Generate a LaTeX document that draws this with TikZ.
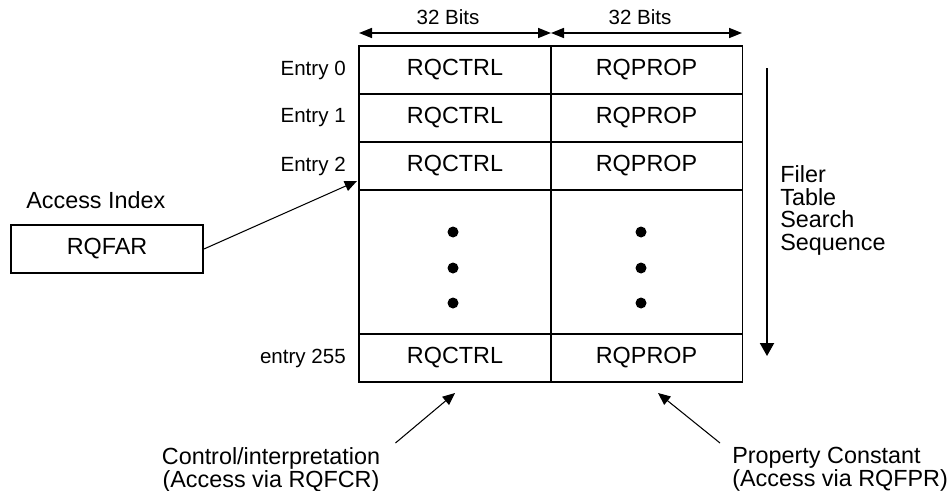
\documentclass[tikz,border=0pt]{standalone}
\usepackage{fontspec}
\setmainfont{Liberation Sans}
\usetikzlibrary{arrows.meta,positioning}

\begin{document}
\begin{tikzpicture}[x=0.02cm,y=-0.02cm,
    big/.style={font=\fontsize{13.3}{13}\selectfont},
    small/.style={font=\fontsize{11.7}{12}\selectfont, inner sep=0pt},
    cell/.style={draw, line width=1.1pt, minimum width=3.84cm, minimum height=0.96cm, inner sep=0pt, big},
    ptr/.style={-{Triangle[length=7pt,width=6pt]}, line width=0.6pt},
    span/.style={{Triangle[length=7.4pt,width=5.7pt]}-{Triangle[length=7.4pt,width=5.7pt]}, line width=0.9pt}]
\useasboundingbox (0,0) rectangle (952,490);

% table entries
\foreach \r/\y in {0/70,1/118,2/166} {
  \node[cell] (ctrl\r) at (455,\y) {RQCTRL};
  \node[cell] (prop\r) at (646.5,\y) {RQPROP};
  \node[small, left=0.24cm of ctrl\r] (entry\r) {Entry \r};
}
\node[cell, minimum height=2.88cm] (ctrlgap) at (455,262) {};
\node[cell, minimum height=2.88cm] (propgap) at (646.5,262) {};
\node[cell] (ctrl255) at (455,358) {RQCTRL};
\node[cell] (prop255) at (646.5,358) {RQPROP};
\node[small, left=0.24cm of ctrl255] (entry255) {entry 255};

% dots
\foreach \y in {232,268,303} {
  \fill (453,\y) circle (0.11cm);
  \fill (641,\y) circle (0.11cm);
}

% widths
\coordinate (wL) at (359,33);
\coordinate (wM) at (551,33);
\coordinate (wR) at (742,33);
\draw[span] (wL) -- (wM);
\draw[span] (wM) -- (wR);
\node[small] (bitsA) at (448,17) {32 Bits};
\node[small] (bitsB) at (640,17) {32 Bits};

% access index
\node[cell] (rqfar) at (107,249) {RQFAR};
\node[big, anchor=west, inner sep=0pt] (access) at (26,200) {Access Index};
\coordinate (fartip) at (357,181);
\draw[ptr] (rqfar.east) -- (fartip);

% search sequence
\coordinate (seqtop) at (767,68);
\coordinate (seqend) at (767,356);
\draw[-{Triangle[length=7.4pt,width=8pt]}, line width=1.1pt] (seqtop) -- (seqend);
\node[big, align=left, anchor=north west, inner sep=0pt] (seq) at (780,165) {Filer\\Table\\Search\\Sequence};

% access registers
\node[big, align=center, anchor=north, inner sep=0pt] (ctrlnote) at (271,447) {Control/interpretation\\(Access via RQFCR)};
\node[big, align=left, anchor=north west, inner sep=0pt] (propnote) at (732,447) {Property Constant\\(Access via RQFPR)};
\coordinate (ctrltip) at (455,393);
\coordinate (proptip) at (658,393);
\draw[ptr] ([shift={(15,-4)}]ctrlnote.north east) -- (ctrltip);
\draw[ptr] ([shift={(-12,-4)}]propnote.north west) -- (proptip);
\end{tikzpicture}
\end{document}
